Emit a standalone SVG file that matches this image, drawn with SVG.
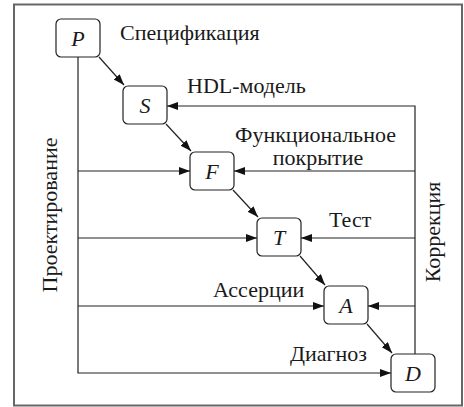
<svg xmlns="http://www.w3.org/2000/svg" width="464" height="407" viewBox="0 0 464 407" font-family="Liberation Serif, Times New Roman, serif">
<style>
.node rect{fill:#fff;stroke:#222;stroke-width:1.2}
.conn line,.conn polyline{stroke:#222;stroke-width:1.2;fill:none}
.frame{fill:none;stroke:#666;stroke-width:2}
</style>
<defs>
<marker id="ah" markerUnits="userSpaceOnUse" markerWidth="12" markerHeight="10" refX="11" refY="4" orient="auto">
<path d="M0,0 L11,4 L0,8 Z" fill="#111"/>
</marker>
</defs>
<rect class="frame" x="14" y="4.5" width="448" height="401"/>
<g class="conn">
<line x1="99" y1="57" x2="124" y2="85" marker-end="url(#ah)"/>
<line x1="166" y1="124" x2="191" y2="151" marker-end="url(#ah)"/>
<line x1="233" y1="190" x2="258" y2="217" marker-end="url(#ah)"/>
<line x1="300" y1="256" x2="325" y2="285" marker-end="url(#ah)"/>
<line x1="367" y1="324" x2="392" y2="353" marker-end="url(#ah)"/>
<polyline points="78,57 78,373 391,373" marker-end="url(#ah)"/>
<line x1="78" y1="171" x2="190" y2="171" marker-end="url(#ah)"/>
<line x1="78" y1="238" x2="257" y2="238" marker-end="url(#ah)"/>
<line x1="78" y1="306" x2="324" y2="306" marker-end="url(#ah)"/>
<polyline points="415,354 415,106 167,106" marker-end="url(#ah)"/>
<line x1="415" y1="171" x2="234" y2="171" marker-end="url(#ah)"/>
<line x1="415" y1="238" x2="301" y2="238" marker-end="url(#ah)"/>
<line x1="415" y1="306" x2="368" y2="306" marker-end="url(#ah)"/>
</g>
<g font-family="Liberation Serif, serif" font-style="italic" font-size="22" text-anchor="middle" fill="#1a1a1a">
<g id="node-P" class="node"><rect x="56" y="19" width="44" height="38" rx="5"/><text x="78" y="46">P</text></g>
<g id="node-S" class="node"><rect x="123" y="86" width="44" height="38" rx="5"/><text x="145" y="113">S</text></g>
<g id="node-F" class="node"><rect x="190" y="152" width="44" height="38" rx="5"/><text x="212" y="179">F</text></g>
<g id="node-T" class="node"><rect x="257" y="218" width="44" height="38" rx="5"/><text x="279" y="245">T</text></g>
<g id="node-A" class="node"><rect x="324" y="286" width="44" height="38" rx="5"/><text x="346" y="313">A</text></g>
<g id="node-D" class="node"><rect x="391" y="354" width="44" height="38" rx="5"/><text x="413" y="381">D</text></g>
</g>
<g id="labels" font-family="Liberation Serif, serif" font-size="22" fill="#1a1a1a">
<text x="120" y="40">Спецификация</text>
<text x="187" y="93">HDL-модель</text>
<text x="315.5" y="141.5" text-anchor="middle">Функциональное</text>
<text x="318" y="165" text-anchor="middle">покрытие</text>
<text x="329" y="227">Тест</text>
<text x="213" y="296.5">Ассерции</text>
<text x="367" y="361" text-anchor="end">Диагноз</text>
<text transform="translate(56.5,215) rotate(-90)" text-anchor="middle">Проектирование</text>
<text transform="translate(440,232) rotate(-90)" text-anchor="middle">Коррекция</text>
</g>
</svg>
